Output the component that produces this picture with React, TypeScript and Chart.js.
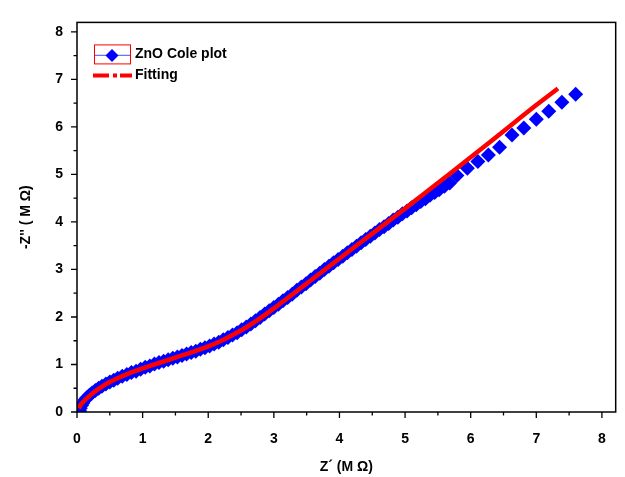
import { useEffect, useRef } from 'react';
import { Chart, registerables } from 'chart.js';

Chart.register(...registerables);

// ZnO Cole plot (measured), Z' and -Z'' in MΩ
const dataZReal = [
  0.04, 0.05, 0.07, 0.09, 0.12, 0.15, 0.19, 0.23, 0.28, 0.33, 0.38, 0.44, 0.5, 0.56, 0.62, 0.69, 0.76, 0.83, 0.9, 0.97,
  1.04, 1.11, 1.18, 1.25, 1.32, 1.39, 1.46, 1.53, 1.6, 1.67, 1.74, 1.81, 1.88, 1.95, 2.02, 2.09, 2.16, 2.23, 2.3, 2.37,
  2.44, 2.51, 2.58, 2.65, 2.72, 2.79, 2.86, 2.93, 3.0, 3.07, 3.14, 3.21, 3.28, 3.35, 3.42, 3.49, 3.56, 3.63, 3.7, 3.77,
  3.84, 3.91, 3.98, 4.05, 4.12, 4.19, 4.26, 4.33, 4.4, 4.47, 4.54, 4.61, 4.68, 4.75, 4.82, 4.89, 4.96, 5.03, 5.1, 5.17,
  5.24, 5.31, 5.38, 5.45, 5.52, 5.6, 5.68, 5.79, 5.95, 6.11, 6.27, 6.44, 6.63, 6.81, 7.0, 7.19, 7.39, 7.6,
];
const dataZImag = [
  0.02, 0.08, 0.14, 0.19, 0.25, 0.3, 0.35, 0.4, 0.45, 0.5, 0.54, 0.59, 0.63, 0.67, 0.71, 0.75, 0.79, 0.83, 0.86, 0.9,
  0.94, 0.97, 1.01, 1.04, 1.07, 1.1, 1.13, 1.16, 1.19, 1.22, 1.25, 1.28, 1.32, 1.35, 1.39, 1.43, 1.47, 1.52, 1.57, 1.62,
  1.67, 1.73, 1.79, 1.85, 1.92, 1.99, 2.06, 2.13, 2.2, 2.27, 2.34, 2.41, 2.48, 2.56, 2.63, 2.7, 2.78, 2.85, 2.92, 3.0,
  3.07, 3.14, 3.21, 3.28, 3.35, 3.42, 3.49, 3.56, 3.63, 3.7, 3.77, 3.84, 3.9, 3.97, 4.04, 4.1, 4.17, 4.23, 4.3, 4.36,
  4.43, 4.49, 4.56, 4.62, 4.68, 4.75, 4.82, 4.98, 5.13, 5.27, 5.41, 5.57, 5.83, 5.98, 6.16, 6.33, 6.52, 6.69,
];

// Fitting curve
const fitZReal = [
  0.03, 0.06, 0.1, 0.15, 0.2, 0.3, 0.4, 0.5, 0.6, 0.8, 1.0, 1.2, 1.4, 1.6, 1.8, 2.0, 2.2, 2.4, 2.6, 2.8,
  3.0, 3.2, 3.4, 3.6, 3.8, 4.0, 4.2, 4.4, 4.6, 4.8, 5.0, 5.5, 6.0, 6.5, 7.0, 7.33,
];
const fitZImag = [
  0.08, 0.16, 0.22, 0.29, 0.35, 0.46, 0.55, 0.63, 0.7, 0.82, 0.92, 1.01, 1.1, 1.19, 1.28, 1.38, 1.5, 1.64, 1.8, 1.98,
  2.18, 2.39, 2.6, 2.81, 3.02, 3.23, 3.44, 3.65, 3.86, 4.07, 4.28, 4.82, 5.36, 5.91, 6.46, 6.81,
];

const xTickValues = [0, 1, 2, 3, 4, 5, 6, 7, 8];
const yTickValues = [0, 1, 2, 3, 4, 5, 6, 7, 8];
const legendLabels = ['ZnO Cole plot', 'Fitting'];
const xTitle = 'Z\u00b4 (M \u03a9)';
const yTitle = "-Z'' ( M \u03a9)";

const FONT = "'Liberation Sans', Arial, Helvetica, sans-serif";
const BLUE = '#0000ff';
const RED = '#ff0000';

const framePlugin = {
  id: 'frameTicksLegend',
  afterDraw(chart: any) {
    const { ctx, chartArea: a, scales } = chart;
    const x = scales.x;
    const y = scales.y;
    ctx.save();
    // frame
    ctx.strokeStyle = '#000';
    ctx.lineWidth = 1.5;
    ctx.strokeRect(a.left, a.top, a.right - a.left, a.bottom - a.top);
    // ticks (major + minor)
    ctx.lineWidth = 1.3;
    ctx.beginPath();
    xTickValues.forEach((v) => {
      const px = x.getPixelForValue(v);
      ctx.moveTo(px, a.bottom);
      ctx.lineTo(px, a.bottom + 6);
      const mv = v + 0.5;
      if (mv <= x.max) {
        const mx = x.getPixelForValue(mv);
        ctx.moveTo(mx, a.bottom);
        ctx.lineTo(mx, a.bottom + 3.5);
      }
    });
    yTickValues.forEach((v) => {
      const py = y.getPixelForValue(v);
      ctx.moveTo(a.left, py);
      ctx.lineTo(a.left - 6, py);
      const mv = v + 0.5;
      if (mv <= y.max) {
        const my = y.getPixelForValue(mv);
        ctx.moveTo(a.left, my);
        ctx.lineTo(a.left - 3.5, my);
      }
    });
    ctx.stroke();

    // legend
    const lx = a.left + 17;
    const ly = a.top + 33;
    ctx.strokeStyle = RED;
    ctx.lineWidth = 1;
    ctx.strokeRect(lx + 0.5, ly - 10.5, 36, 19);
    ctx.strokeStyle = '#6f6fff';
    ctx.lineWidth = 1.2;
    ctx.beginPath();
    ctx.moveTo(lx + 1, ly);
    ctx.lineTo(lx + 36, ly);
    ctx.stroke();
    ctx.fillStyle = BLUE;
    ctx.beginPath();
    const cx = lx + 18;
    const r = 6.5;
    ctx.moveTo(cx - r, ly);
    ctx.lineTo(cx, ly - r);
    ctx.lineTo(cx + r, ly);
    ctx.lineTo(cx, ly + r);
    ctx.closePath();
    ctx.fill();

    const fy = ly + 20;
    ctx.strokeStyle = RED;
    ctx.lineWidth = 4;
    ctx.lineCap = 'butt';
    ctx.beginPath();
    ctx.moveTo(lx - 1, fy);
    ctx.lineTo(lx + 15, fy);
    ctx.moveTo(lx + 19, fy);
    ctx.lineTo(lx + 23, fy);
    ctx.moveTo(lx + 26, fy);
    ctx.lineTo(lx + 38, fy);
    ctx.stroke();

    ctx.fillStyle = '#000';
    ctx.font = `bold 14px ${FONT}`;
    ctx.textBaseline = 'middle';
    ctx.textAlign = 'left';
    ctx.fillText(legendLabels[0], lx + 41, ly - 1);
    ctx.fillText(legendLabels[1], lx + 41, fy);
    ctx.restore();
  },
};

export default function App() {
  const ref = useRef<HTMLCanvasElement | null>(null);
  useEffect(() => {
    if (!ref.current) return;
    const tickFont = { family: FONT, size: 14, weight: 'bold' as const };
    const chart = new Chart(ref.current, {
      type: 'scatter',
      data: {
        datasets: [
          {
            label: legendLabels[1],
            data: fitZReal.map((v, i) => ({ x: v, y: fitZImag[i] })),
            showLine: true,
            borderColor: RED,
            borderWidth: 4.5,
            pointRadius: 0,
            cubicInterpolationMode: 'monotone',
            order: 0,
          },
          {
            label: legendLabels[0],
            data: dataZReal.map((v, i) => ({ x: v, y: dataZImag[i] })),
            showLine: false,
            pointStyle: 'rectRot',
            pointRadius: 7.5,
            pointBackgroundColor: BLUE,
            pointBorderColor: BLUE,
            pointBorderWidth: 0,
            order: 1,
          },
        ],
      },
      options: {
        animation: false,
        responsive: false,
        maintainAspectRatio: false,
        layout: { padding: { top: 10, right: 7, left: 0, bottom: 0 } },
        plugins: { legend: { display: false }, tooltip: { enabled: false } },
        scales: {
          x: {
            type: 'linear',
            min: 0,
            max: 8.21,
            grid: { display: false, drawTicks: false },
            border: { display: false },
            ticks: {
              stepSize: 1,
              includeBounds: false,
              autoSkip: false,
              maxRotation: 0,
              padding: 19,
              color: '#000',
              font: tickFont,
            },
            title: {
              display: true,
              text: xTitle,
              color: '#000',
              font: tickFont,
              padding: { top: 0, bottom: 1 },
            },
            afterFit: (s: any) => {
              s.height = 65;
            },
          },
          y: {
            type: 'linear',
            min: 0,
            max: 8.2,
            grid: { display: false, drawTicks: false },
            border: { display: false },
            ticks: {
              stepSize: 1,
              includeBounds: false,
              autoSkip: false,
              padding: 14,
              color: '#000',
              font: tickFont,
            },
            title: {
              display: true,
              text: yTitle,
              color: '#000',
              font: tickFont,
              padding: { top: 18, bottom: 0 },
            },
            afterFit: (s: any) => {
              s.width = 77;
            },
          },
        },
      },
      plugins: [framePlugin],
    } as any);
    return () => chart.destroy();
  }, []);
  return (
    <div style={{ position: 'fixed', left: 0, top: 0, width: 625, height: 477, background: '#fff' }}>
      <canvas ref={ref} width={625} height={477} style={{ display: 'block', width: 625, height: 477 }} />
    </div>
  );
}
